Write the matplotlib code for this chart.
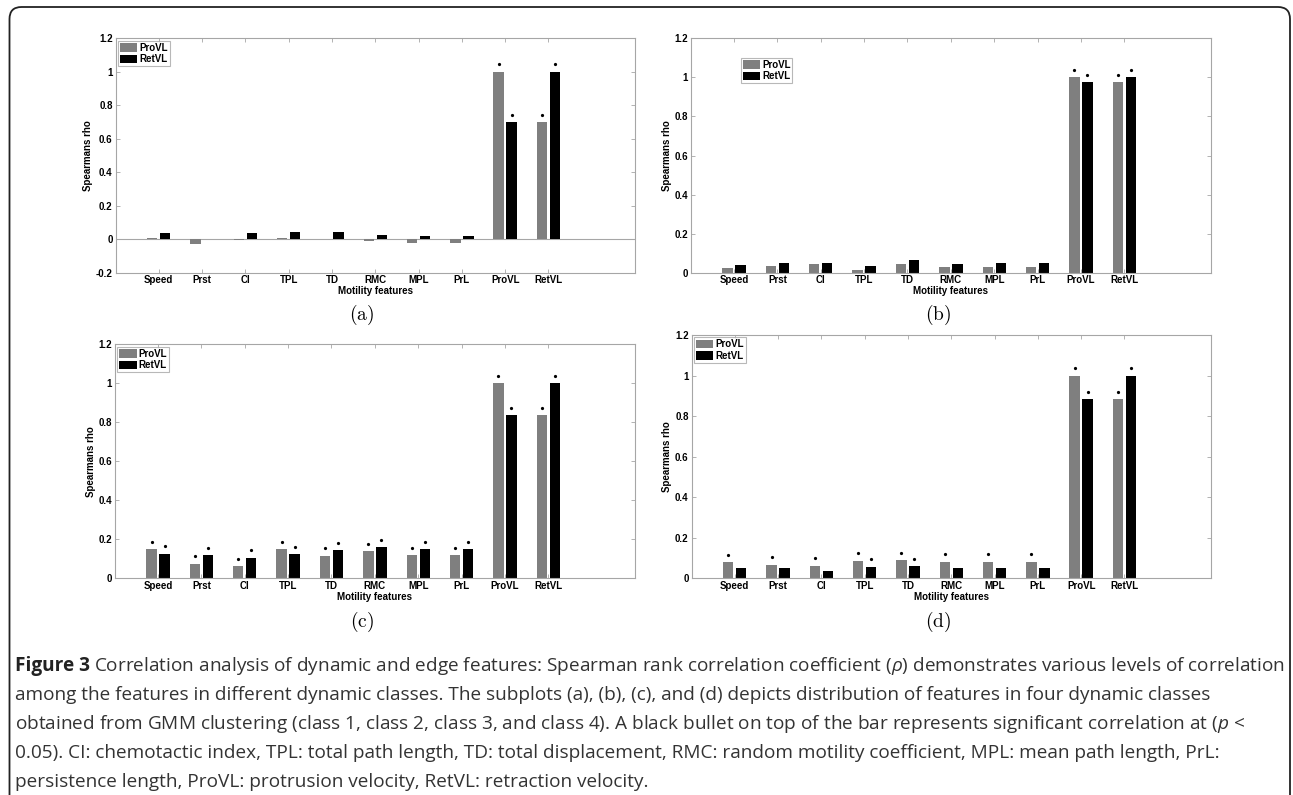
import numpy as np
import matplotlib.pyplot as plt
from matplotlib.patches import FancyBboxPatch
from matplotlib.transforms import ScaledTranslation

# Datos
features = ['Speed', 'Prst', 'CI', 'TPL', 'TD', 'RMC', 'MPL', 'PrL', 'ProVL', 'RetVL']

# (a) clase 1
provl_a = [0.008, -0.03, -0.005, 0.01, 0.003, -0.01, -0.02, -0.02, 1.0, 0.70]
retvl_a = [0.037, 0.002, 0.037, 0.042, 0.043, 0.027, 0.017, 0.017, 0.70, 1.0]
sig_pro_a = [0, 0, 0, 0, 0, 0, 0, 0, 1, 1]
sig_ret_a = [0, 0, 0, 0, 0, 0, 0, 0, 1, 1]

# (b) clase 2
provl_b = [0.024, 0.036, 0.044, 0.012, 0.044, 0.027, 0.029, 0.029, 1.0, 0.976]
retvl_b = [0.037, 0.051, 0.049, 0.032, 0.063, 0.043, 0.048, 0.048, 0.976, 1.0]
sig_pro_b = [0, 0, 0, 0, 0, 0, 0, 0, 1, 1]
sig_ret_b = [0, 0, 0, 0, 0, 0, 0, 0, 1, 1]

# (c) clase 3
provl_c = [0.149, 0.074, 0.062, 0.149, 0.115, 0.140, 0.118, 0.118, 1.0, 0.836]
retvl_c = [0.126, 0.118, 0.106, 0.123, 0.144, 0.159, 0.149, 0.149, 0.836, 1.0]
sig_pro_c = [1, 1, 1, 1, 1, 1, 1, 1, 1, 1]
sig_ret_c = [1, 1, 1, 1, 1, 1, 1, 1, 1, 1]

# (d) clase 4
provl_d = [0.079, 0.066, 0.061, 0.086, 0.090, 0.081, 0.081, 0.081, 1.0, 0.882]
retvl_d = [0.049, 0.051, 0.036, 0.056, 0.059, 0.051, 0.051, 0.051, 0.882, 1.0]
sig_pro_d = [1, 1, 1, 1, 1, 1, 1, 1, 1, 1]
sig_ret_d = [0, 0, 0, 1, 1, 0, 0, 0, 1, 1]

caption_lines = [
    "Correlation analysis of dynamic and edge features: Spearman rank correlation coefficient ($\\rho$) demonstrates various levels of correlation",
    "among the features in different dynamic classes. The subplots (a), (b), (c), and (d) depicts distribution of features in four dynamic classes",
    "obtained from GMM clustering (class 1, class 2, class 3, and class 4). A black bullet on top of the bar represents significant correlation at ($p$ <",
    "0.05). CI: chemotactic index, TPL: total path length, TD: total displacement, RMC: random motility coefficient, MPL: mean path length, PrL:",
    "persistence length, ProVL: protrusion velocity, RetVL: retraction velocity.",
]

W, H = 1293, 795
plt.rcParams['font.family'] = ['Liberation Sans', 'DejaVu Sans']
plt.rcParams['mathtext.fontset'] = 'custom'
plt.rcParams['mathtext.it'] = 'Open Sans:italic'
plt.rcParams['mathtext.rm'] = 'Open Sans'

fig = plt.figure(figsize=(W / 100, H / 100), dpi=100)

gray_ax = '#a6a6a6'
fs = 7


def panel(l, r, t, b, pro, ret, sp, sr, ymin, legend_anchor=None):
    ax = fig.add_axes([l / W, 1 - b / H, (r - l) / W, (b - t) / H])
    x = np.arange(1, len(features) + 1)
    ax.bar(x - 0.15, pro, 0.24, color='#7f7f7f', label='ProVL')
    ax.bar(x + 0.15, ret, 0.24, color='black', label='RetVL')
    ax.set_xlim(0, 12)
    ax.set_ylim(ymin, 1.2)
    if ymin < 0:
        ax.axhline(0, color=gray_ax, lw=0.8, zorder=0)
    ax.set_xticks(x)
    ax.set_xticklabels(features)
    yt = np.round(np.arange(ymin, 1.21, 0.2), 1)
    ax.set_yticks(yt)
    ax.set_yticklabels(['%g' % v for v in yt])
    ax.tick_params(direction='in', top=True, right=True, length=3, width=0.6,
                   color=gray_ax, labelsize=fs, pad=2)
    for lbl in ax.get_xticklabels() + ax.get_yticklabels():
        lbl.set_fontweight('bold')
    for s in ax.spines.values():
        s.set_color(gray_ax)
        s.set_linewidth(0.8)
    ax.set_xlabel('Motility features', fontsize=fs, fontweight='bold', labelpad=0.5)
    ax.set_ylabel('Spearmans rho', fontsize=fs, fontweight='bold', labelpad=2)

    # puntos de significancia
    trans = ax.transData + ScaledTranslation(0, 0.075, fig.dpi_scale_trans)
    px = [xi - 0.15 for xi, s in zip(x, sp) if s]
    py = [v for v, s in zip(pro, sp) if s]
    rx = [xi + 0.15 for xi, s in zip(x, sr) if s]
    ry = [v for v, s in zip(ret, sr) if s]
    ax.plot(px + rx, py + ry, 'o', ms=1.3, color='black', transform=trans,
            clip_on=False, linestyle='none')

    opts = dict(handlelength=1.8, handleheight=0.95, handletextpad=0.2,
                borderpad=0.2, labelspacing=0.15, fancybox=False,
                prop={'size': fs, 'weight': 'bold'})
    if legend_anchor is None:
        leg = ax.legend(loc='upper left', borderaxespad=0.25, **opts)
    else:
        leg = ax.legend(loc='upper left', bbox_to_anchor=legend_anchor, borderaxespad=0, **opts)
    leg.get_frame().set_edgecolor(gray_ax)
    leg.get_frame().set_linewidth(0.8)
    return ax


# Posiciones en pixeles (izq, der, arriba, abajo)
panel(115.5, 635, 38.3, 272.7, provl_a, retvl_a, sig_pro_a, sig_ret_a, -0.2)
panel(690.7, 1211, 38.3, 272.7, provl_b, retvl_b, sig_pro_b, sig_ret_b, 0.0,
      legend_anchor=(0.096, 0.917))
panel(114.7, 635, 344.3, 578.3, provl_c, retvl_c, sig_pro_c, sig_ret_c, 0.0)
panel(691.5, 1211, 335, 578.3, provl_d, retvl_d, sig_pro_d, sig_ret_d, 0.0)

for lab, (xp, yp) in zip('abcd', [(361.6, 315), (937.8, 315), (361.6, 622), (937.8, 622)]):
    fig.text(xp / W, 1 - yp / H, r'$(\mathrm{%s})$' % lab, math_fontfamily='cm',
             fontsize=14, ha='center', va='center')

# Marco redondeado
box = FancyBboxPatch((0.095, -0.2), 12.805, 8.08, boxstyle='round,pad=0,rounding_size=0.12',
                     transform=fig.dpi_scale_trans, fill=False, edgecolor='#222222', lw=1.3)
fig.add_artist(box)

# Pie de figura
cap_family = ['Open Sans', 'DejaVu Sans']
cap_color = '#333333'
baselines = [671, 700, 729, 758, 787]
x0 = 15
renderer = fig.canvas.get_renderer()


def caption(size):
    texts = []
    tb = fig.text(x0 / W, 1 - baselines[0] / H, 'Figure 3', fontweight='bold',
                  family=cap_family, fontsize=size, va='baseline', color='#222222')
    bb = tb.get_window_extent(renderer)
    tr = fig.text(bb.x1 / W + size * 0.3 / W, 1 - baselines[0] / H, caption_lines[0],
                  family=cap_family, fontsize=size, va='baseline', color=cap_color)
    texts += [tb, tr]
    for line, yb in zip(caption_lines[1:], baselines[1:]):
        texts.append(fig.text(x0 / W, 1 - yb / H, line, family=cap_family,
                              fontsize=size, va='baseline', color=cap_color))
    return texts


texts = caption(10)
w = texts[1].get_window_extent(renderer).x1 - x0
size = 10 * 1267 / w
for t in texts:
    t.remove()
caption(size)

fig.savefig('out.png', dpi=100)
